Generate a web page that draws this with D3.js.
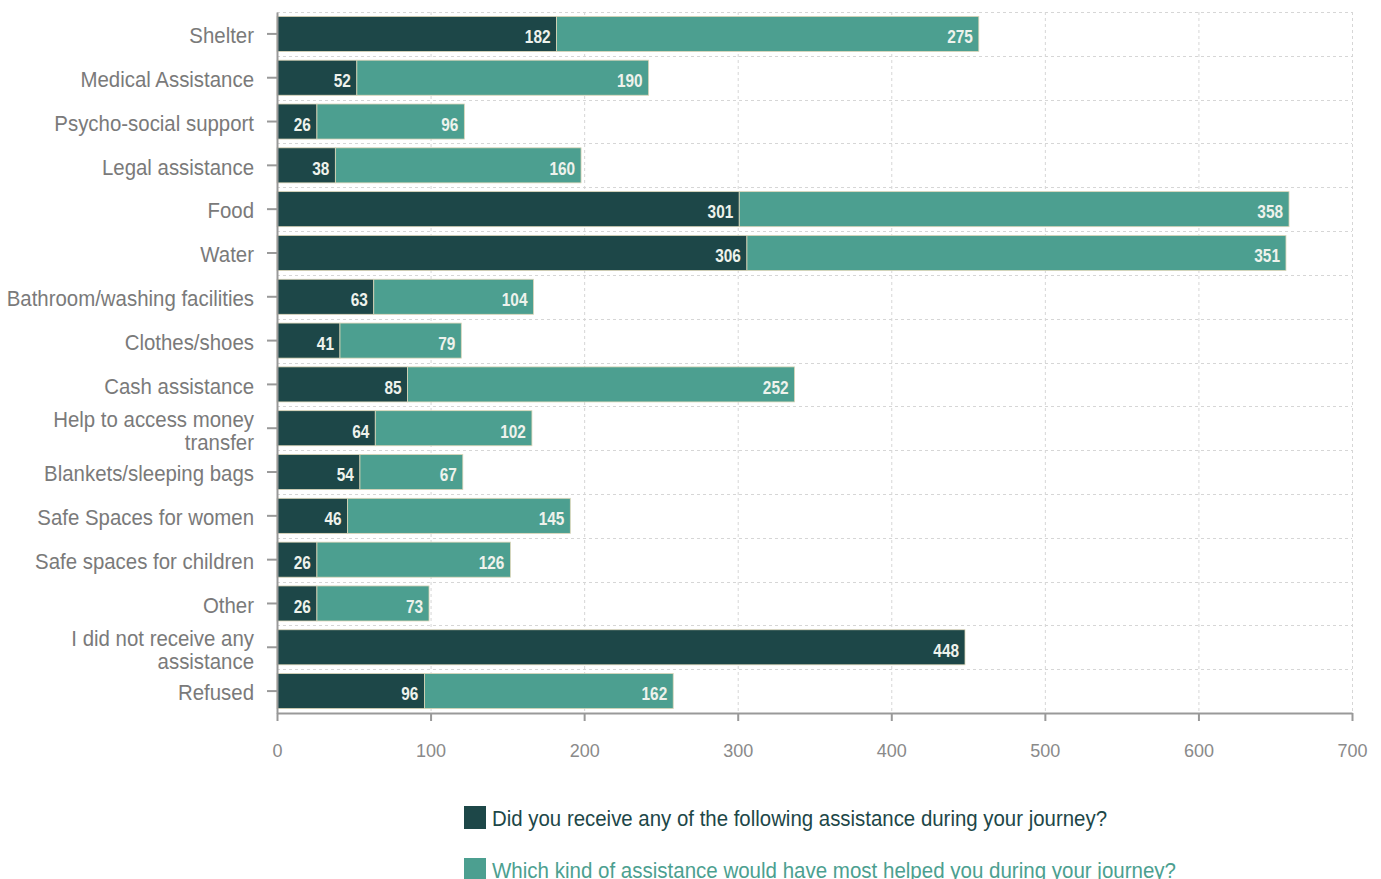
<!DOCTYPE html>
<html><head><meta charset="utf-8">
<script src="https://cdn.jsdelivr.net/npm/d3@7"></script>
<style>
body{margin:0;background:#fff;}
svg text{font-family:"Liberation Sans",Arial,sans-serif;}
</style></head><body>
<svg id="c" width="1381" height="879"></svg>
<script>
const categories = ["Shelter","Medical Assistance","Psycho-social support","Legal assistance","Food","Water","Bathroom/washing facilities","Clothes/shoes","Cash assistance","Help to access money transfer","Blankets/sleeping bags","Safe Spaces for women","Safe spaces for children","Other","I did not receive any assistance","Refused"];
const received = [182,52,26,38,301,306,63,41,85,64,54,46,26,26,448,96];
const wanted = [275,190,96,160,358,351,104,79,252,102,67,145,126,73,0,162];
const seriesNames = ["Did you receive any of the following assistance during your journey?","Which kind of assistance would have most helped you during your journey?"];
const xTicks = [0,100,200,300,400,500,600,700];
const colors = ["#1d4748","#4c9f90"];
const labelLines = {"Help to access money transfer":["Help to access money","transfer"],"I did not receive any assistance":["I did not receive any","assistance"]};

const svg = d3.select("#c");
const m = {left:277, top:12, right:1352, bottom:713};
const x = d3.scaleLinear().domain([0,700]).range([m.left,m.right]);
const y = d3.scaleBand().domain(categories).range([m.top,m.bottom]).paddingInner(0.2).paddingOuter(0.1);

// grid
const g = svg.append("g");
xTicks.forEach(t=>{
  g.append("line").attr("x1",x(t)+0.5).attr("x2",x(t)+0.5).attr("y1",m.top).attr("y2",m.bottom)
   .attr("stroke","#d6d6d6").attr("stroke-dasharray","3,3");
});
for(let i=0;i<=categories.length;i++){
  const yy = Math.round(m.top + i*(m.bottom-m.top)/categories.length)+0.5;
  g.append("line").attr("x1",m.left).attr("x2",m.right).attr("y1",yy).attr("y2",yy)
   .attr("stroke","#d6d6d6").attr("stroke-dasharray","3,3");
}

// bars
const stacked = categories.map((c,i)=>({c, a:received[i], b:wanted[i]}));
const bars = svg.append("g");
function valLabel(xr, yc, v){
  bars.append("g").attr("transform",`translate(${xr},${yc+3}) scale(0.88,1)`)
    .append("text").attr("x",0).attr("y",0).attr("dy","0.36em").attr("text-anchor","end")
    .attr("fill","#eef2ec").attr("font-size",17.5).attr("font-weight","bold").text(v);
}
stacked.forEach(d=>{
  const y0 = y(d.c), h = y.bandwidth();
  bars.append("rect").attr("x",x(0)).attr("y",y0).attr("width",x(d.a)-x(0)).attr("height",h)
    .attr("fill",colors[0]).attr("stroke","#ddd6b8").attr("stroke-width",0.8);
  if(d.b>0) bars.append("rect").attr("x",x(d.a)).attr("y",y0).attr("width",x(d.a+d.b)-x(d.a)).attr("height",h)
    .attr("fill",colors[1]).attr("stroke","#ddd6b8").attr("stroke-width",0.8);
  valLabel(x(d.a)-6, y0+h/2, d.a);
  if(d.b>0) valLabel(x(d.a+d.b)-6, y0+h/2, d.b);
});

// y axis
const ya = svg.append("g").attr("transform",`translate(${m.left},0)`)
  .call(d3.axisLeft(y).tickSize(10).tickSizeOuter(0).tickFormat(""));
ya.select(".domain").attr("stroke","#999").attr("stroke-width",2);
ya.selectAll(".tick line").attr("stroke","#999").attr("stroke-width",2);
categories.forEach(c=>{
  const lines = labelLines[c] || [c];
  const cy = y(c)+y.bandwidth()/2 + (lines.length>1 ? 2.5 : 1.5);
  const t = svg.append("g").attr("transform",`translate(254,${cy}) scale(0.95,1)`)
    .append("text").attr("text-anchor","end").attr("fill","#7a7a7a").attr("font-size",21.5);
  lines.forEach((l,k)=>{
    t.append("tspan").attr("x",0).attr("y",(k-(lines.length-1)/2)*23).attr("dy","0.36em").text(l);
  });
});

// x axis
const xa = svg.append("g").attr("transform",`translate(0,${m.bottom})`)
  .call(d3.axisBottom(x).tickValues(xTicks).tickSize(8).tickSizeOuter(0).tickPadding(23));
xa.select(".domain").attr("stroke","#999").attr("stroke-width",2);
xa.selectAll(".tick text").attr("fill","#8a8a8a").attr("font-size",18).style("font-family","'Liberation Sans',Arial,sans-serif");
xa.selectAll(".tick line").attr("stroke","#999").attr("stroke-width",2);

// legend
const legendWidths = [615, 684];
const lg = svg.append("g");
seriesNames.forEach((s,i)=>{
  const ly = 806 + i*52;
  lg.append("rect").attr("x",464).attr("y",ly).attr("width",22).attr("height",23).attr("fill",colors[i]);
  lg.append("text").attr("x",492).attr("y",ly+12).attr("dy","0.36em").attr("fill",colors[i]).attr("font-size",21.5)
    .attr("textLength",legendWidths[i]).attr("lengthAdjust","spacingAndGlyphs").text(s);
});
</script>
</body></html>
